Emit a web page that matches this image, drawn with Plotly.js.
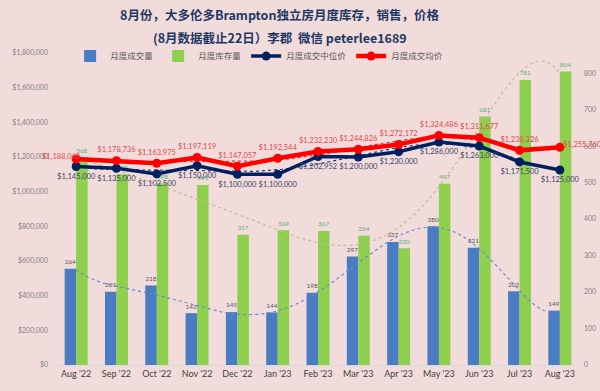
<!DOCTYPE html>
<html><head><meta charset="utf-8">
<script src="https://cdn.plot.ly/plotly-3.0.1.min.js"></script>
<style>html,body{margin:0;padding:0;background:#F2DCDB}</style>
</head><body><div id="chart" style="width:600px;height:391px"></div>
<script>
const months = ["Aug '22","Sep '22","Oct '22","Nov '22","Dec '22","Jan '23","Feb '23","Mar '23","Apr '23","May '23","Jun '23","Jul '23","Aug '23"];
const volume = [264, 201, 218, 142, 145, 144, 198, 297, 337, 380, 321, 202, 149];
const inventory = [568, 523, 498, 493, 357, 369, 367, 354, 320, 497, 681, 781, 804];
const medianPrice = [1145000, 1135000, 1102500, 1150000, 1100000, 1100000, 1202952, 1200000, 1230000, 1286000, 1263000, 1171500, 1125000];
const avgPrice = [1188060, 1178736, 1163975, 1197119, 1147057, 1192544, 1232230, 1244826, 1272172, 1324486, 1311677, 1238326, 1255760];
const titleLines = ['8月份，大多伦多Brampton独立房月度库存，销售，价格', '(8月数据截止22日）李郡  微信 peterlee1689'];

const idx = months.map((m, i) => i);
const last = idx.length - 1;
const money = v => '$' + v.toLocaleString('en-US');

// Excel-style polynomial trendline (least squares) derived from the data arrays
function polyTrend(ys, order) {
  const n = ys.length, c = (n - 1) / 2;
  const m = order + 1;
  const A = Array.from({length: m}, () => new Array(m + 1).fill(0));
  for (let i = 0; i < n; i++) {
    const t = (i - c) / c;
    for (let r = 0; r < m; r++) {
      for (let k = 0; k < m; k++) A[r][k] += Math.pow(t, r + k);
      A[r][m] += ys[i] * Math.pow(t, r);
    }
  }
  for (let col = 0; col < m; col++) {
    let p = col;
    for (let r = col + 1; r < m; r++) if (Math.abs(A[r][col]) > Math.abs(A[p][col])) p = r;
    [A[col], A[p]] = [A[p], A[col]];
    for (let r = 0; r < m; r++) {
      if (r === col) continue;
      const f = A[r][col] / A[col][col];
      for (let k = col; k <= m; k++) A[r][k] -= f * A[col][k];
    }
  }
  const coef = A.map((row, r) => row[m] / row[r]);
  const xs = [], out = [];
  for (let x = 0; x <= n - 1 + 1e-9; x += 0.1) {
    const t = (x - c) / c;
    let v = 0;
    for (let r = 0; r < m; r++) v += coef[r] * Math.pow(t, r);
    xs.push(x); out.push(v);
  }
  return {x: xs, y: out};
}

const tv = polyTrend(volume, 6), ti = polyTrend(inventory, 6);
const tm = polyTrend(medianPrice, 6), ta = polyTrend(avgPrice, 6);

const F = 'Lato, "Noto Sans CJK SC", sans-serif';
const CJK = '"Noto Sans CJK SC", Lato, sans-serif';
const redLabel = {size: 7.5, color: '#E04848', family: F};

const traces = [
  {type: 'bar', name: '月度成交量', x: idx, y: volume, yaxis: 'y', marker: {color: '#4A7CC3'},
   text: volume.map(String), textposition: 'outside', cliponaxis: false,
   textfont: {size: 8, color: '#595959', family: F}, hoverinfo: 'skip'},
  {type: 'bar', name: '月度库存量', x: idx, y: inventory, yaxis: 'y', marker: {color: '#8FCF4E'},
   text: inventory.map(String), textposition: 'outside', cliponaxis: false,
   textfont: {size: 8, color: '#5FAF72', family: F}, hoverinfo: 'skip'},
  {type: 'scatter', mode: 'lines', x: tv.x, y: tv.y, yaxis: 'y', showlegend: false, hoverinfo: 'skip',
   line: {color: '#6A8AC8', width: 1.2, dash: 'dot'}},
  {type: 'scatter', mode: 'lines', x: ti.x, y: ti.y, yaxis: 'y', showlegend: false, hoverinfo: 'skip',
   line: {color: '#C8B890', width: 1.2, dash: 'dot'}},
  {type: 'scatter', mode: 'lines', x: tm.x, y: tm.y, yaxis: 'y2', showlegend: false, hoverinfo: 'skip',
   line: {color: '#1F3A7A', width: 1.2, dash: 'dot'}},
  {type: 'scatter', mode: 'lines', x: ta.x, y: ta.y, yaxis: 'y2', showlegend: false, hoverinfo: 'skip',
   line: {color: '#E03030', width: 1.2, dash: 'dot'}},
  {type: 'scatter', mode: 'lines+markers+text', name: '月度成交中位价', x: idx, y: medianPrice, yaxis: 'y2',
   line: {color: '#002060', width: 3.5}, marker: {color: '#002060', size: 9},
   text: medianPrice.map(money), textposition: 'bottom center', cliponaxis: false,
   textfont: {size: 7.5, color: '#3A4466', family: F}, hoverinfo: 'skip'},
  {type: 'scatter', mode: 'lines+markers+text', name: '月度成交均价', x: idx, y: avgPrice, yaxis: 'y2',
   line: {color: '#FF0000', width: 4.5}, marker: {color: '#FF0000', size: 9},
   text: avgPrice.map((v, i) => (i === 0 || i === last) ? '' : money(v)),
   textposition: 'top center', cliponaxis: false, textfont: redLabel, hoverinfo: 'skip'}
];

const annotations = [
  {xref: 'paper', yref: 'paper', x: 0.427, y: 1.122, xanchor: 'center', yanchor: 'middle', showarrow: false,
   text: '<b>' + titleLines[0] + '</b>', font: {family: CJK, size: 12.5, color: '#1F3864'}},
  {xref: 'paper', yref: 'paper', x: 0.427, y: 1.051, xanchor: 'center', yanchor: 'middle', showarrow: false,
   text: '<b>' + titleLines[1] + '</b>', font: {family: CJK, size: 12.5, color: '#1F3864'}},
  {xref: 'x', yref: 'y2', x: idx[0], y: avgPrice[0], xanchor: 'center', yanchor: 'middle', xshift: -15, yshift: 3,
   showarrow: false, text: money(avgPrice[0]), font: redLabel},
  {xref: 'x', yref: 'y2', x: idx[last], y: avgPrice[last], xanchor: 'left', yanchor: 'middle', xshift: 1, yshift: 3,
   showarrow: false, text: money(avgPrice[last]), font: redLabel}
];

const layout = {
  width: 600, height: 391,
  paper_bgcolor: '#F2DCDB', plot_bgcolor: '#F2DCDB',
  margin: {l: 56, r: 20, t: 53, b: 26},
  font: {family: F, color: '#595959'},
  annotations: annotations,
  barmode: 'group', bargap: 0.43, bargroupgap: 0,
  showlegend: true,
  legend: {orientation: 'h', x: 0.027, xanchor: 'left', y: 0.99, yanchor: 'middle',
           font: {family: CJK, size: 8.5, color: '#595959'}, bgcolor: 'rgba(0,0,0,0)', itemwidth: 30},
  xaxis: {range: [-0.5, 12.5], tickvals: idx, ticktext: months, showgrid: false, zeroline: false,
          showline: true, linecolor: '#D9D9D9', ticks: '', tickfont: {size: 9, color: '#404040', family: F}},
  yaxis: {side: 'right', range: [0, 855], tickvals: [0,100,200,300,400,500,600,700,800], showgrid: false, zeroline: false,
          tickfont: {size: 7, color: '#808080', family: F}, ticklabelstandoff: 3},
  yaxis2: {side: 'left', overlaying: 'y', range: [0, 1800000], dtick: 200000, tickformat: '$,.0f',
           showgrid: false, zeroline: false, tickfont: {size: 7, color: '#808080', family: F}, ticklabelstandoff: 7}
};

Plotly.newPlot('chart', traces, layout, {displayModeBar: false, staticPlot: true});
</script>
</body></html>
